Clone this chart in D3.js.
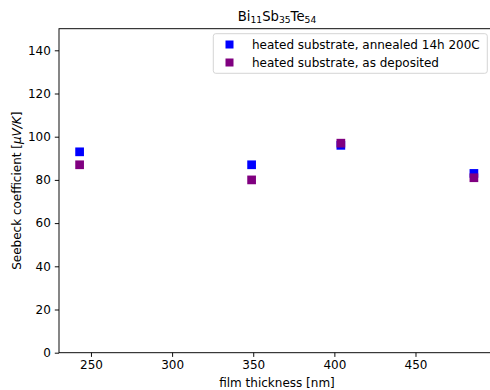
<!DOCTYPE html>
<html>
<head>
<meta charset="utf-8">
<script src="https://cdn.jsdelivr.net/npm/d3@7"></script>
<style>
  html, body { margin: 0; padding: 0; background: #fff; }
  svg { display: block; font-family: "DejaVu Sans", sans-serif; }
</style>
</head>
<body>
<svg id="chart" width="490" height="390"></svg>
<script>
// Film thickness (nm) and Seebeck coefficient (µV/K) for each sample set
const thickness = [243, 349, 404, 486];
const annealed = [93, 87, 96, 83];
const asDeposited = [87, 80, 97, 81];
const seriesNames = ["heated substrate, annealed 14h 200C", "heated substrate, as deposited"];
const seriesColors = ["#0000ff", "#800080"];
const xTicks = [250, 300, 350, 400, 450];
const yTicks = [0, 20, 40, 60, 80, 100, 120, 140];

const svg = d3.select("#chart");
const m = { left: 59, right: 495, top: 28.7, bottom: 352.7 };

const x = d3.scaleLinear().domain([230.3, 499]).range([m.left, m.right]);
const y = d3.scaleLinear().domain([0, 150]).range([m.bottom, m.top]);

const fs = 12;

// axes
const xAxis = svg.append("g")
  .attr("transform", `translate(0,${m.bottom})`)
  .call(d3.axisBottom(x).tickValues(xTicks).tickSize(4.2).tickPadding(4).tickSizeOuter(0));
const yAxis = svg.append("g")
  .attr("transform", `translate(${m.left},0)`)
  .call(d3.axisLeft(y).tickValues(yTicks).tickSize(4.2).tickPadding(4).tickSizeOuter(0));

[xAxis, yAxis].forEach(g => {
  g.select(".domain").remove();
  g.selectAll(".tick line").attr("stroke", "#000").attr("stroke-width", 0.95);
  g.selectAll(".tick text").attr("fill", "#000").style("font-size", fs + "px")
    .style("font-family", "DejaVu Sans, sans-serif");
});

// spines
svg.append("rect")
  .attr("x", m.left).attr("y", m.top)
  .attr("width", m.right - m.left).attr("height", m.bottom - m.top)
  .attr("fill", "none").attr("stroke", "#000").attr("stroke-width", 0.95);

// markers
const ms = 8.7;
const series = [annealed, asDeposited];
series.forEach((vals, i) => {
  svg.append("g").selectAll("rect")
    .data(vals.map((v, j) => ({ t: thickness[j], v })))
    .join("rect")
    .attr("x", d => x(d.t) - ms / 2)
    .attr("y", d => y(d.v) - ms / 2)
    .attr("width", ms).attr("height", ms)
    .attr("fill", seriesColors[i]);
});

// title with subscripts
const title = svg.append("text")
  .attr("x", (m.left + m.right) / 2).attr("y", 21)
  .attr("text-anchor", "middle")
  .style("font-size", "13.2px").attr("fill", "#000");
[["Bi", false], ["11", true], ["Sb", false], ["35", true], ["Te", false], ["54", true]].forEach(([t, sub], i) => {
  const ts = title.append("tspan").text(t);
  if (sub) ts.style("font-size", "9.2px").attr("dy", 2.4);
  else if (i > 0) ts.attr("dy", -2.4);
});

// axis labels
svg.append("text")
  .attr("x", (m.left + m.right) / 2).attr("y", 387)
  .attr("text-anchor", "middle").style("font-size", fs + "px")
  .text("film thickness [nm]");

const yl = svg.append("text")
  .attr("transform", `translate(21,${(m.top + m.bottom) / 2}) rotate(-90)`)
  .attr("text-anchor", "middle").style("font-size", fs + "px");
yl.append("tspan").text("Seebeck coefficient [");
yl.append("tspan").style("font-style", "italic").text("μV/K");
yl.append("tspan").text("]");

// legend
const lg = svg.append("g");
lg.append("rect")
  .attr("x", 213.3).attr("y", 33.7).attr("width", 274).attr("height", 39.6)
  .attr("rx", 2.5).attr("fill", "#fff").attr("fill-opacity", 0.8)
  .attr("stroke", "#d0d0d0").attr("stroke-width", 0.9);
seriesNames.forEach((name, i) => {
  const cy = 44.5 + i * 18;
  lg.append("rect")
    .attr("x", 229.5 - 4).attr("y", cy - 4).attr("width", 8).attr("height", 8)
    .attr("fill", seriesColors[i]);
  lg.append("text")
    .attr("x", 252).attr("y", cy + 4.3)
    .style("font-size", fs + "px").text(name);
});
</script>
</body>
</html>
